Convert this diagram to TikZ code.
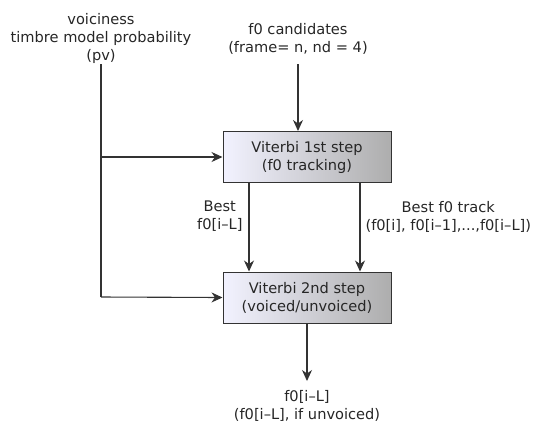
\documentclass[tikz,border=0pt]{standalone}
\usepackage{fontspec}
\setmainfont{DejaVu Sans}
\usetikzlibrary{arrows.meta}
\begin{document}
\begin{tikzpicture}[x=1pt,y=-1pt,
  every node/.style={font=\fontsize{14.6}{18}\selectfont, text=black!85, align=center, inner sep=0pt},
  stagebox/.style={draw=black!80, line width=1pt, left color=blue!5!white, right color=black!32,
    shading angle=90, minimum width=168pt, minimum height=51pt},
  flow/.style={draw=black!80, line width=1.1pt, -{Stealth[length=11pt,width=10pt,inset=3.5pt]}},
  plain/.style={draw=black!80, line width=1.1pt}]
\useasboundingbox (0,0) rectangle (537,424);
% inputs
\node (pv) at (101,38) {voiciness\\timbre model probability\\(pv)};
\node (cand) at (298,39) {f0 candidates\\(frame= n, nd = 4)};
% processing stages
\node[stagebox] (v1) at (307,157) {Viterbi 1st step\\(f0 tracking)};
\node[stagebox] (v2) at (307,297.5) {Viterbi 2nd step\\(voiced/unvoiced)};
% output
\node (out) at (307,406) {f0[i–L]\\(f0[i–L], if unvoiced)};
% connectors
\coordinate (pvtop) at (101,64);
\coordinate (j1) at (101,157);
\coordinate (j2) at (101,297);
\draw[plain] (pvtop) -- (j2);
\draw[flow] (j1) -- (v1.west);
\draw[flow] (j2) -- (v2.west);
\coordinate (ctop) at (298,64);
\draw[flow] (ctop) -- (298,131);
\draw[flow] (v1.south -| 249,0) -- (v2.north -| 249,0)
  node[pos=0.38, left=6pt] {Best\\f0[i–L]};
\draw[flow] (v1.south -| 360,0) -- (v2.north -| 360,0)
  node[pos=0.38, right=4pt, xshift=1pt] (trk) {Best f0 track\\(f0[i], f0[i–1],...,f0[i–L])};
\coordinate (oend) at (307,381);
\draw[flow] (v2.south) -- (oend);
\end{tikzpicture}
\end{document}
